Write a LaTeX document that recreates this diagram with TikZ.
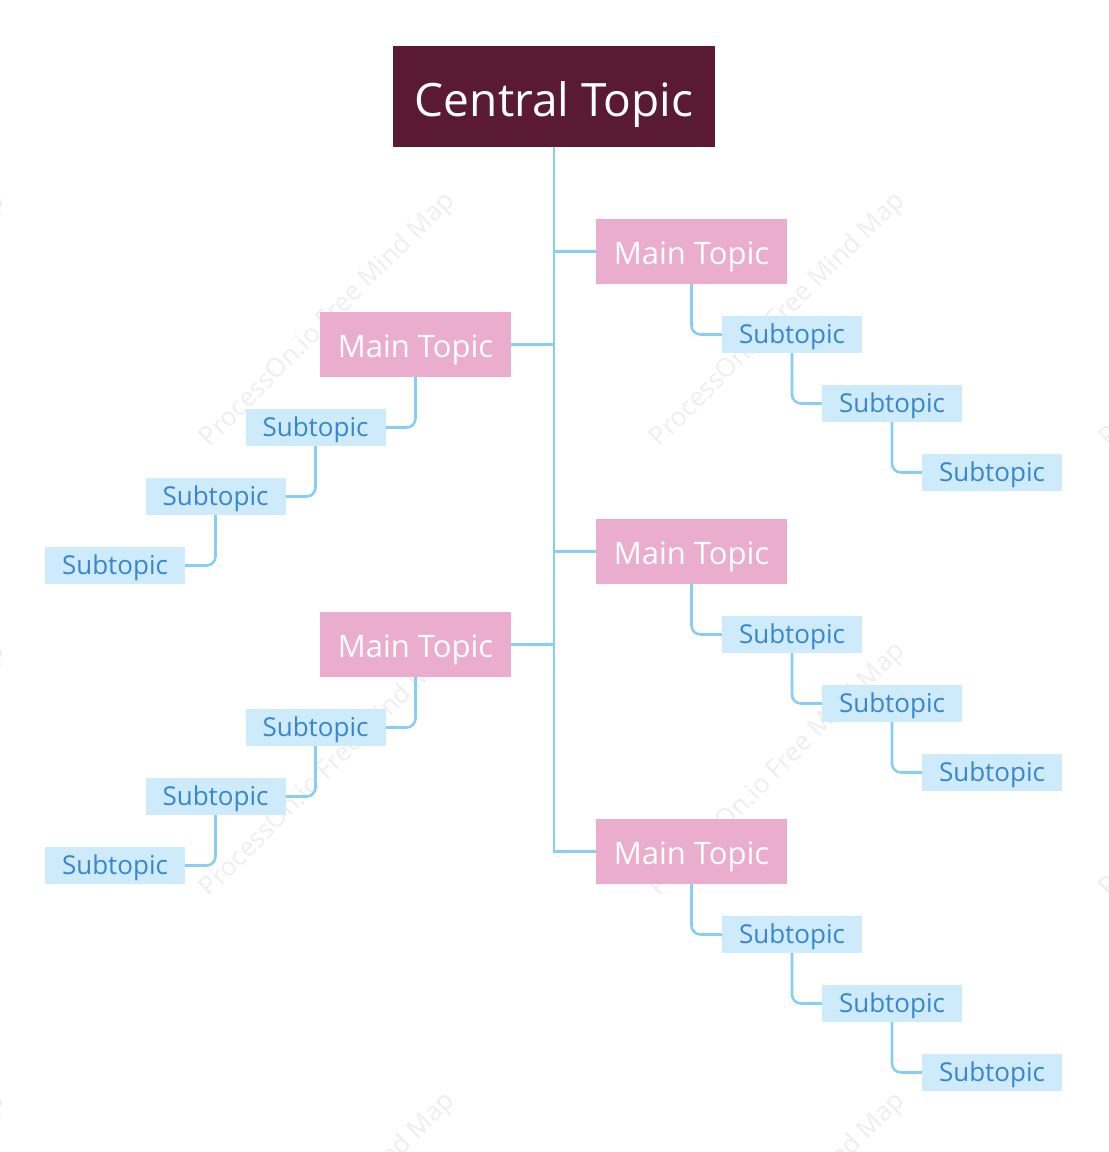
\documentclass[tikz,border=0pt]{standalone}
\usepackage{fontspec}
\setmainfont{Open Sans}
\definecolor{centralc}{HTML}{5B1A33}
\definecolor{mainc}{HTML}{EBADCD}
\definecolor{subc}{HTML}{CDEBFB}
\definecolor{subtext}{HTML}{3A86CB}
\definecolor{linec}{HTML}{86CEF2}
\definecolor{wmark}{HTML}{EEEEEE}
\tikzset{
  central/.style={fill=centralc, text=white, minimum width=322pt, minimum height=101pt, inner sep=0pt, text height=40pt, text depth=0pt, font=\fontsize{46}{50}\selectfont},
  maintopic/.style={fill=mainc, text=white, minimum width=191pt, minimum height=65pt, inner sep=0pt, text height=25pt, text depth=0pt, font=\fontsize{31}{34}\selectfont},
  subtopic/.style={fill=subc, text=subtext, minimum width=140pt, minimum height=37pt, inner sep=0pt, text height=17pt, text depth=0pt, font=\fontsize{26}{28}\selectfont},
  trunk/.style={draw=linec, line width=2.6pt},
  conn/.style={draw=linec, line width=2.6pt, rounded corners=9pt},
  wm/.style={rotate=45, text=wmark, inner sep=0pt, font=\fontsize{26}{28}\selectfont}
}
\begin{document}
\begin{tikzpicture}[x=1pt,y=-1pt]
\useasboundingbox (0,0) rectangle (1109,1152);
\begin{scope}
\clip (0,0) rectangle (1109,1152);
\foreach \wx/\wy [count=\i] in {-122/320, 328/320, 778/320, 1228/320, -122/770, 328/770, 778/770, 1228/770, -122/1220, 328/1220, 778/1220, 1228/1220}
  \node[wm] (wm\i) at (\wx,\wy) {ProcessOn.io Free Mind Map};
\end{scope}

\node[central] (ct) at (554,96) {Central Topic};

\node[maintopic] (mR1) at (691.5,251.5) {Main Topic};
\node[maintopic] (mR2) at (691.5,551.5) {Main Topic};
\node[maintopic] (mR3) at (691.5,851.5) {Main Topic};
\node[maintopic] (mL1) at (415.5,344.5) {Main Topic};
\node[maintopic] (mL2) at (415.5,644.5) {Main Topic};

\foreach \g/\oy in {1/0, 2/300, 3/600} {
  \node[subtopic] (sR\g a) at (792,334.5+\oy) {Subtopic};
  \node[subtopic] (sR\g b) at (892,403.5+\oy) {Subtopic};
  \node[subtopic] (sR\g c) at (992,472.5+\oy) {Subtopic};
}
\foreach \g/\oy in {1/0, 2/300} {
  \node[subtopic] (sL\g a) at (315.5,427.5+\oy) {Subtopic};
  \node[subtopic] (sL\g b) at (215.5,496.5+\oy) {Subtopic};
  \node[subtopic] (sL\g c) at (115,565.5+\oy) {Subtopic};
}

% trunk and branches
\draw[trunk] (ct.south) -- (ct.south |- mR3.west) -- (mR3.west);
\draw[trunk] (ct.south |- mR1.west) -- (mR1.west);
\draw[trunk] (ct.south |- mR2.west) -- (mR2.west);
\draw[trunk] (ct.south |- mL1.east) -- (mL1.east);
\draw[trunk] (ct.south |- mL2.east) -- (mL2.east);

% right sub branches
\foreach \g in {1,2,3} {
  \draw[conn] (mR\g.south) -- (mR\g.south |- sR\g a.west) -- (sR\g a.west);
  \draw[conn] (sR\g a.south) -- (sR\g a.south |- sR\g b.west) -- (sR\g b.west);
  \draw[conn] (sR\g b.south) -- (sR\g b.south |- sR\g c.west) -- (sR\g c.west);
}
% left sub branches
\foreach \g in {1,2} {
  \draw[conn] (mL\g.south) -- (mL\g.south |- sL\g a.east) -- (sL\g a.east);
  \draw[conn] (sL\g a.south) -- (sL\g a.south |- sL\g b.east) -- (sL\g b.east);
  \draw[conn] (sL\g b.south) -- (sL\g b.south |- sL\g c.east) -- (sL\g c.east);
}
\end{tikzpicture}
\end{document}
